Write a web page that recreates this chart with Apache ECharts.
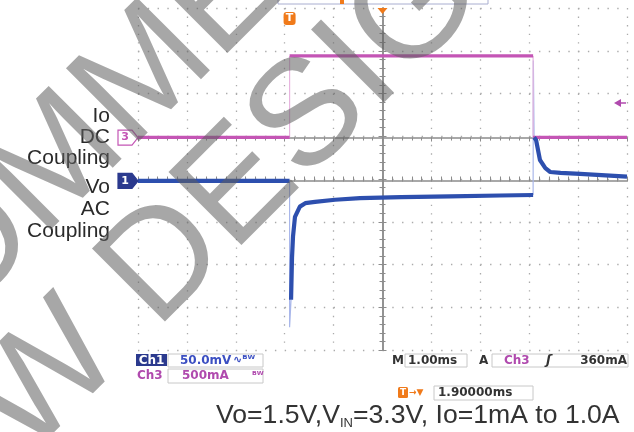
<!DOCTYPE html>
<html><head><meta charset="utf-8">
<script src="https://cdn.jsdelivr.net/npm/echarts@6/dist/echarts.min.js"></script>
<style>html,body{margin:0;padding:0;background:#fff}#c{width:634px;height:432px}</style>
</head><body><div id="c"></div>
<script>
// ---- data (time in ms relative to screen centre, Vo in mV AC coupled, Io in mA) ----
const voTime  = [-5, -1.9, null, -1.87, -1.85, -1.83, -1.79, -1.69, -1.58, -1.38, -0.97, -0.46, 0.38, 1.38, 2.40, 3.08, null, 3.10, 3.14, 3.22, 3.33, 3.43, 3.64, 4.04, 5];
const voMilliV= [0, 0, null, -139, -89, -65, -42, -30, -26, -24.5, -22, -20, -19, -18, -17, -16.4, null, 51, 48, 24.5, 15, 10.5, 9.4, 8.2, 5];
const voSpikeTime  = [-1.9, -1.9, -1.87, null, 3.08, 3.085, 3.10];
const voSpikeMilliV= [0, -171, -139, null, -16.4, 141, 51];
const ioTime = [-5, -1.9, null, -1.9, 3.08, null, 3.08, 5];
const ioMilliA = [1, 1, null, 955, 955, null, 1, 1];
const ioEdgeTime = [-1.9, -1.9, null, 3.08, 3.08];
const ioEdgeMilliA = [1, 955, null, 955, 1];
const sideLabelsIo = ['Io', 'DC', 'Coupling'];
const sideLabelsVo = ['Vo', 'AC', 'Coupling'];

const pair = (ts, vs) => ts.map((t, i) => t === null ? [null, null] : [t, vs[i]]);

const GL = 138, GT = 8, GW = 489, GH = 342;
const dotCol = '#ababab', borderCol = '#8c8c8c';
const hidden = {axisLabel:{show:false}, axisTick:{show:false}, axisLine:{show:false}, splitLine:{show:false}};
function borderAxis(pos, extra) {
  return Object.assign({
    type:'value', min:-5, max:5, interval:1, position:pos,
    axisLabel:{show:false},
    axisLine:{show:true, lineStyle:{color:borderCol, width:1.5}},
    axisTick:{show:true, inside:true, length:4, lineStyle:{color:borderCol}},
    minorTick:{show:true, splitNumber:5, length:3, lineStyle:{color:borderCol}},
    splitLine:{show:false}
  }, extra || {});
}
function centerAxis(pos, inside, off, extra) {
  return Object.assign({
    type:'value', min:-5, max:5, interval:1, position:pos, offset:off,
    axisLabel:{show:false},
    axisLine:{show:false},
    axisTick:{show:true, inside:inside, length:2.5, lineStyle:{color:borderCol}},
    minorTick:{show:true, splitNumber:5, length:2.5, lineStyle:{color:borderCol}},
    splitLine:{show:false}
  }, extra || {});
}
const divY = {min:-4, max:4, interval:1};

const chart = echarts.init(document.getElementById('c'));
chart.setOption({
  animation:false,
  backgroundColor:'#fff',
  grid:{left:GL, top:GT, width:GW, height:GH, outerBoundsMode:'none', containLabel:false},
  xAxis:[
    borderAxis('bottom', {splitLine:{show:true, lineStyle:{color:dotCol, width:1.3, type:[1.4, 7.15], dashOffset:0}}}),
    borderAxis('top'),
    centerAxis('bottom', true, -GH/2),
    centerAxis('bottom', false, -GH/2)
  ],
  yAxis:[
    Object.assign({type:'value', min:-197.7, max:202.3, show:false}, hidden),
    Object.assign({type:'value', min:-2485, max:1515, show:false}, hidden),
    borderAxis('left', Object.assign({}, divY, {splitLine:{show:true, lineStyle:{color:dotCol, width:1.3, type:[1.4, 8.38]}}})),
    borderAxis('right', divY),
    centerAxis('left', true, -GW/2, divY),
    centerAxis('left', false, -GW/2, divY)
  ],
  series:[
    {type:'line', xAxisIndex:0, yAxisIndex:0, data:pair(voSpikeTime, voSpikeMilliV), showSymbol:false, silent:true,
     lineStyle:{color:'#a9b7ea', width:1.2}, z:3},
    {type:'line', xAxisIndex:0, yAxisIndex:1, data:pair(ioEdgeTime, ioEdgeMilliA), showSymbol:false, silent:true,
     lineStyle:{color:'#e7b5df', width:1.2}, z:3},
    {type:'line', xAxisIndex:0, yAxisIndex:1, data:pair(ioTime, ioMilliA), showSymbol:false, silent:true,
     lineStyle:{color:'#c455b5', width:3.2}, z:4},
    {type:'line', xAxisIndex:0, yAxisIndex:0, data:pair(voTime, voMilliV), showSymbol:false, silent:true,
     lineStyle:{color:'#2d4fae', width:4.2}, z:5}
  ]
});

const y1 = chart.convertToPixel({xAxisIndex:0, yAxisIndex:0}, [-5, 0])[1];
const y3 = chart.convertToPixel({xAxisIndex:0, yAxisIndex:1}, [-5, 0])[1];
const xTrig = chart.convertToPixel({xAxisIndex:0, yAxisIndex:0}, [-1.9, 0])[0];
const xMid = chart.convertToPixel({xAxisIndex:0, yAxisIndex:0}, [0, 0])[0];

const mono = 'bold 12px "DejaVu Sans"';
const blueTxt = '#3b4fc2', magTxt = '#b04aae', navy = '#2b3a8e', orange = '#f07a1a';
const g = [];
function marker(y, label, filled, col) {
  g.push({type:'polygon', shape:{points:[[118,y-7.5],[132,y-7.5],[138,y],[132,y+7.5],[118,y+7.5]]},
    style:{fill:filled ? col : '#fff', stroke:col, lineWidth:1.2}, z:20});
  g.push({type:'text', x:125, y:y, style:{text:label, font:'bold 11px "DejaVu Sans"', fill:filled ? '#fff' : col, align:'center', verticalAlign:'middle'}, z:21});
}
marker(y3, '3', false, '#c455b5');
marker(y1, '1', true, navy);
// side labels
sideLabelsIo.forEach((s, i) => g.push({type:'text', x:110, y:116 + i*21, style:{text:s, font:'21px "Liberation Sans"', fill:'#2a2a2a', align:'right', verticalAlign:'middle'}, z:20}));
sideLabelsVo.forEach((s, i) => g.push({type:'text', x:110, y:187 + i*22, style:{text:s, font:'21px "Liberation Sans"', fill:'#2a2a2a', align:'right', verticalAlign:'middle'}, z:20}));
// top record bar and markers
g.push({type:'rect', shape:{x:278, y:-3, width:210, height:7}, style:{fill:'#fff', stroke:'#a9aed0', lineWidth:1}, z:20});
g.push({type:'rect', shape:{x:340, y:-2, width:4, height:6}, style:{fill:orange}, z:21});
g.push({type:'polygon', shape:{points:[[xMid-5,GT],[xMid+5,GT],[xMid,GT+6]]}, style:{fill:orange}, z:21});
g.push({type:'rect', shape:{x:xTrig-6, y:GT+4, width:12, height:13, r:3}, style:{fill:orange}, z:21});
g.push({type:'text', x:xTrig, y:GT+10.5, style:{text:'T', font:'bold 11px "DejaVu Sans"', fill:'#fff', align:'center', verticalAlign:'middle'}, z:22});
// trigger level arrow on right
g.push({type:'polygon', shape:{points:[[614,103],[621,99],[621,107]]}, style:{fill:'#b04aae'}, z:21});
g.push({type:'line', shape:{x1:620, y1:103, x2:626, y2:103}, style:{stroke:'#b04aae', lineWidth:1.5}, z:21});
// readouts row 1/2 left
g.push({type:'rect', shape:{x:136, y:354, width:31, height:12}, style:{fill:navy}, z:20});
g.push({type:'text', x:151.5, y:360.5, style:{text:'Ch1', font:mono, fill:'#fff', align:'center', verticalAlign:'middle'}, z:21});
g.push({type:'rect', shape:{x:168, y:354, width:95, height:13}, style:{fill:'none', stroke:'#c8c8c8', lineWidth:1}, z:20});
g.push({type:'text', x:180, y:360.5, style:{text:'50.0mV', font:mono, fill:blueTxt, verticalAlign:'middle'}, z:21});
g.push({type:'text', x:233, y:360.5, style:{text:'∿ᴮᵂ', font:'bold 11px "DejaVu Sans"', fill:blueTxt, verticalAlign:'middle'}, z:21});
g.push({type:'text', x:137, y:376, style:{text:'Ch3', font:mono, fill:magTxt, verticalAlign:'middle'}, z:21});
g.push({type:'rect', shape:{x:168, y:369, width:95, height:14}, style:{fill:'none', stroke:'#c8c8c8', lineWidth:1}, z:20});
g.push({type:'text', x:182, y:376, style:{text:'500mA', font:mono, fill:magTxt, verticalAlign:'middle'}, z:21});
g.push({type:'text', x:252, y:376, style:{text:'ᴮᵂ', font:'bold 10px "DejaVu Sans"', fill:magTxt, verticalAlign:'middle'}, z:21});
// right readouts
g.push({type:'text', x:392, y:361, style:{text:'M', font:mono, fill:'#333', verticalAlign:'middle'}, z:21});
g.push({type:'rect', shape:{x:405, y:354, width:62, height:13}, style:{fill:'none', stroke:'#c8c8c8', lineWidth:1}, z:20});
g.push({type:'text', x:408, y:361, style:{text:'1.00ms', font:mono, fill:'#333', verticalAlign:'middle'}, z:21});
g.push({type:'text', x:479, y:361, style:{text:'A', font:mono, fill:'#333', verticalAlign:'middle'}, z:21});
g.push({type:'rect', shape:{x:492, y:354, width:136, height:13}, style:{fill:'none', stroke:'#c8c8c8', lineWidth:1}, z:20});
g.push({type:'text', x:504, y:361, style:{text:'Ch3', font:mono, fill:magTxt, verticalAlign:'middle'}, z:21});
g.push({type:'text', x:546, y:361, style:{text:'ʃ', font:'bold italic 13px "DejaVu Sans"', fill:'#333', verticalAlign:'middle'}, z:21});
g.push({type:'text', x:627, y:361, style:{text:'360mA', font:mono, fill:'#333', align:'right', verticalAlign:'middle'}, z:21});
// trigger position readout
g.push({type:'rect', shape:{x:398, y:387, width:10, height:11, r:1.5}, style:{fill:orange}, z:21});
g.push({type:'text', x:403, y:392.5, style:{text:'T', font:'bold 9px "DejaVu Sans"', fill:'#fff', align:'center', verticalAlign:'middle'}, z:22});
g.push({type:'text', x:409, y:392.5, style:{text:'→▼', font:'bold 9px "DejaVu Sans"', fill:orange, verticalAlign:'middle'}, z:22});
g.push({type:'rect', shape:{x:434, y:386, width:99, height:14}, style:{fill:'none', stroke:'#c8c8c8', lineWidth:1}, z:20});
g.push({type:'text', x:438, y:393, style:{text:'1.90000ms', font:mono, fill:'#333', verticalAlign:'middle'}, z:21});
// caption
g.push({type:'text', x:216, y:416, style:{
  text:'Vo=1.5V,V{s|IN}=3.3V, Io=1mA to 1.0A', font:'26.6px "Liberation Sans"', fill:'#333', verticalAlign:'middle',
  rich:{s:{font:'13px "Liberation Sans"', fill:'#333', verticalAlign:'bottom', padding:[15,0,0,0]}}}, z:21});
// watermark
const wm = 'rgba(95,95,95,0.55)';
g.push({type:'text', x:-97, y:631, rotation:Math.PI/4, style:{text:'NEW DESIGN', font:'150px "Liberation Sans"', fill:wm, align:'left', verticalAlign:'bottom'}, z:50});
g.push({type:'text', x:-494, y:822, rotation:Math.PI/4, style:{text:'NOT RECOMMENDED FOR', font:'150px "Liberation Sans"', fill:wm, align:'left', verticalAlign:'bottom'}, z:50});
chart.setOption({graphic:{elements:g}});
</script>
</body></html>
